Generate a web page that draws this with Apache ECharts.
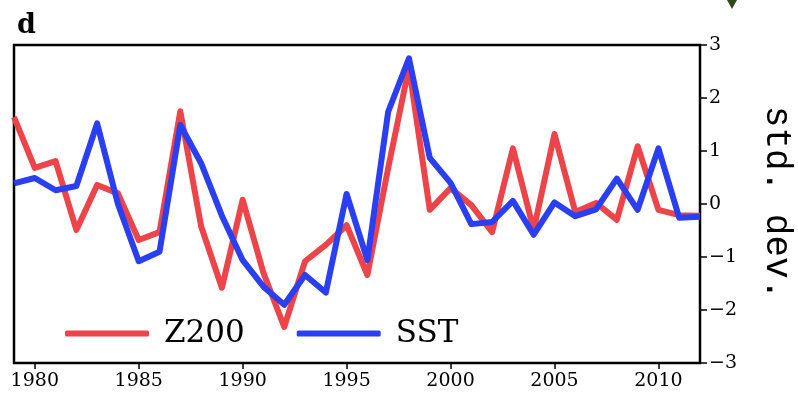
<!DOCTYPE html>
<html>
<head>
<meta charset="utf-8">
<script src="https://cdn.jsdelivr.net/npm/echarts@6/dist/echarts.min.js"></script>
<style>html,body{margin:0;padding:0;background:#fff;}#c{width:798px;height:395px;}</style>
</head>
<body>
<div id="c"></div>
<script>
var years = [1979,1980,1981,1982,1983,1984,1985,1986,1987,1988,1989,1990,1991,1992,1993,1994,1995,1996,1997,1998,1999,2000,2001,2002,2003,2004,2005,2006,2007,2008,2009,2010,2011,2012];
var z200 = [1.64,0.68,0.81,-0.49,0.36,0.2,-0.68,-0.53,1.75,-0.42,-1.58,0.08,-1.3,-2.32,-1.08,-0.77,-0.4,-1.34,0.68,2.58,-0.11,0.3,-0.02,-0.53,1.05,-0.49,1.32,-0.15,0.02,-0.3,1.09,-0.11,-0.21,-0.22];
var sst = [0.39,0.49,0.26,0.34,1.52,0.0,-1.08,-0.9,1.49,0.77,-0.22,-1.06,-1.56,-1.9,-1.34,-1.67,0.19,-1.06,1.74,2.75,0.87,0.4,-0.38,-0.34,0.06,-0.58,0.03,-0.23,-0.1,0.48,-0.11,1.05,-0.26,-0.24];
var xTicks = [1980,1985,1990,1995,2000,2005,2010];
var yTicks = [-3,-2,-1,0,1,2,3];
var seriesNames = ['Z200','SST'];

function pairs(v){ return years.map(function(y,i){ return [y, v[i]]; }); }

var chart = echarts.init(document.getElementById('c'), null, {renderer:'canvas'});
var serif = '"DejaVu Serif", serif';
chart.setOption({
  animation: false,
  backgroundColor: '#fff',
  grid: {left: 14, right: 98, top: 45, bottom: 32, show: true, borderColor: '#000', borderWidth: 2.5, backgroundColor: 'transparent'},
  xAxis: {
    type: 'value', min: years[0], max: years[years.length-1],
    axisLine: {show: false, onZero: false},
    splitLine: {show: false},
    axisTick: {show: true, inside: false, length: 6, lineStyle: {color: '#000', width: 1.5}, customValues: xTicks},
    axisLabel: {color: '#000', fontFamily: serif, fontSize: 19, margin: 9, customValues: xTicks, formatter: function(v){ return String(v); }}
  },
  yAxis: {
    type: 'value', position: 'right', min: yTicks[0], max: yTicks[yTicks.length-1], interval: 1,
    axisLine: {show: false, onZero: false},
    splitLine: {show: false},
    axisTick: {show: true, inside: false, length: 7, lineStyle: {color: '#000', width: 1.5}},
    axisLabel: {color: '#000', fontFamily: serif, fontSize: 19, margin: 9,
      formatter: function(v){ return v < 0 ? '\u2212' + Math.abs(v) : String(v); }}
  },
  legend: {
    data: seriesNames,
    left: 60, top: 313,
    itemWidth: 84, itemHeight: 6, itemGap: 52,
    icon: 'roundRect',
    textStyle: {color: '#000', fontFamily: serif, fontSize: 31, padding: [0,0,0,10]}
  },
  graphic: [
    {type: 'text', left: 17, top: 12, style: {text: 'd', font: 'bold 27px "DejaVu Serif", serif', fill: '#000'}},
    {type: 'text', x: 777, y: 203, rotation: -Math.PI/2, style: {text: 'std. dev.', font: '36px "Liberation Mono", monospace', fill: '#000', align: 'center', verticalAlign: 'middle'}},
    {type: 'polygon', shape: {points: [[727,0],[737,0],[732,9]]}, style: {fill: '#2d4a1c'}}
  ],
  series: [
    {name: 'Z200', type: 'line', data: pairs(z200), showSymbol: false, symbol: 'none', lineStyle: {color: '#ec4448', width: 6, join: 'round'}, itemStyle: {color: '#ec4448'}, z: 2},
    {name: 'SST', type: 'line', data: pairs(sst), showSymbol: false, symbol: 'none', lineStyle: {color: '#2a3ef2', width: 6, join: 'round'}, itemStyle: {color: '#2a3ef2'}, z: 3}
  ]
});
</script>
</body>
</html>
